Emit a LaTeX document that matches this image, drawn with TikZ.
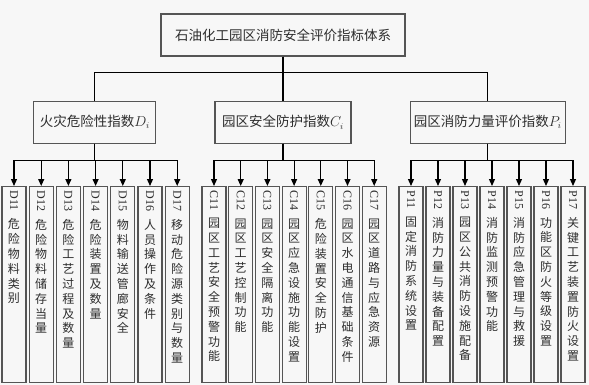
\documentclass[tikz,border=0pt]{standalone}
\usepackage{fontspec}
\setmainfont{Liberation Serif}
\newfontfamily\cjk{Noto Sans CJK SC}
\usetikzlibrary{arrows.meta,positioning}
\definecolor{boxgray}{RGB}{85,85,85}
\definecolor{paper}{RGB}{247,247,247}
\definecolor{inkgray}{RGB}{45,45,45}
% vertical label of a leaf box: rotated code, then stacked characters
\newcommand{\leaflabel}[2]{\parbox[c][192pt][t]{22pt}{\centering\vspace{2pt}\rotatebox{-90}{#1}\par
  \nointerlineskip\baselineskip=14.8pt\lineskiplimit=-\maxdimen\vspace{8pt}\cjk #2}}

\begin{document}
\begin{tikzpicture}[x=1pt,y=1pt,
  top/.style={draw=boxgray,line width=1.2pt,minimum width=244pt,minimum height=42pt,inner sep=0pt,font=\fontsize{13.5}{16}\selectfont\cjk,text=inkgray},
  mid/.style={top,minimum width=122pt},
  leaf/.style={draw=boxgray,line width=1.2pt,minimum width=24pt,minimum height=196pt,inner sep=0pt,font=\fontsize{12}{14.8}\selectfont,text=inkgray},
  line/.style={line width=1.2pt,black},
  arr/.style={line,-{Triangle[length=7pt,width=6pt]}}
]
\fill[paper] (0,0) rectangle (589,-385);
\useasboundingbox (0,0) rectangle (589,-385);

\node[top] (title) at (283,-35) {石油化工园区消防安全评价指标体系};
\node[mid,minimum width=136pt,below=44pt of title] (c) {园区安全防护指数$C_i$};
\node[mid,left=58pt of c] (d) {火灾危险性指数$D_i$};
\node[mid,minimum width=155pt,right=58pt of c] (p) {园区消防力量评价指数$P_i$};

\node[leaf,anchor=north] (d11) at (14,-186) {\leaflabel{D11}{危\\险\\物\\料\\类\\别}};
\node[leaf,right=2pt of d11] (d12) {\leaflabel{D12}{危\\险\\物\\料\\储\\存\\当\\量}};
\node[leaf,right=2pt of d12] (d13) {\leaflabel{D13}{危\\险\\工\\艺\\过\\程\\及\\数\\量}};
\node[leaf,right=2pt of d13] (d14) {\leaflabel{D14}{危\\险\\装\\置\\及\\数\\量}};
\node[leaf,right=2pt of d14] (d15) {\leaflabel{D15}{物\\料\\输\\送\\管\\廊\\安\\全}};
\node[leaf,right=2pt of d15] (d16) {\leaflabel{D16}{人\\员\\操\\作\\及\\条\\件}};
\node[leaf,right=2pt of d16] (d17) {\leaflabel{D17}{移\\动\\危\\险\\源\\类\\别\\与\\数\\量}};

\node[leaf,anchor=north] (c11) at (214,-186) {\leaflabel{C11}{园\\区\\工\\艺\\安\\全\\预\\警\\功\\能}};
\node[leaf,right=1.5pt of c11] (c12) {\leaflabel{C12}{园\\区\\工\\艺\\控\\制\\功\\能}};
\node[leaf,right=1.5pt of c12] (c13) {\leaflabel{C13}{园\\区\\安\\全\\隔\\离\\功\\能}};
\node[leaf,right=1.5pt of c13] (c14) {\leaflabel{C14}{园\\区\\应\\急\\设\\施\\功\\能\\设\\置}};
\node[leaf,right=1.5pt of c14] (c15) {\leaflabel{C15}{危\\险\\装\\置\\安\\全\\防\\护}};
\node[leaf,right=1.5pt of c15] (c16) {\leaflabel{C16}{园\\区\\水\\电\\通\\信\\基\\础\\条\\件}};
\node[leaf,right=1.5pt of c16] (c17) {\leaflabel{C17}{园\\区\\道\\路\\与\\应\\急\\资\\源}};

\node[leaf,anchor=north] (p11) at (411,-186) {\leaflabel{P11}{固\\定\\消\\防\\系\\统\\设\\置}};
\node[leaf,right=1.8pt of p11] (p12) {\leaflabel{P12}{消\\防\\力\\量\\与\\装\\备\\配\\置}};
\node[leaf,right=1.8pt of p12] (p13) {\leaflabel{P13}{园\\区\\公\\共\\消\\防\\设\\施\\配\\备}};
\node[leaf,right=1.8pt of p13] (p14) {\leaflabel{P14}{消\\防\\监\\测\\预\\警\\功\\能}};
\node[leaf,right=1.8pt of p14] (p15) {\leaflabel{P15}{消\\防\\应\\急\\管\\理\\与\\救\\援}};
\node[leaf,right=1.8pt of p15] (p16) {\leaflabel{P16}{功\\能\\区\\防\\火\\等\\级\\设\\置}};
\node[leaf,right=1.8pt of p16] (p17) {\leaflabel{P17}{关\\键\\工\\艺\\装\\置\\防\\火\\设\\置}};

\draw[line] (title.south) -- ++(0,-16) -| (d.north);
\draw[line] (title.south) -- (c.north);
\draw[line] (title.south) -- ++(0,-16) -| (p.north);
\foreach \k in {11,...,17} {
  \draw[arr] (d.south) -- ++(0,-17) -| (d\k.north);
  \draw[arr] (c.south) -- ++(0,-17) -| (c\k.north);
  \draw[arr] (p.south) -- ++(0,-17) -| (p\k.north);
}
\end{tikzpicture}
\end{document}
